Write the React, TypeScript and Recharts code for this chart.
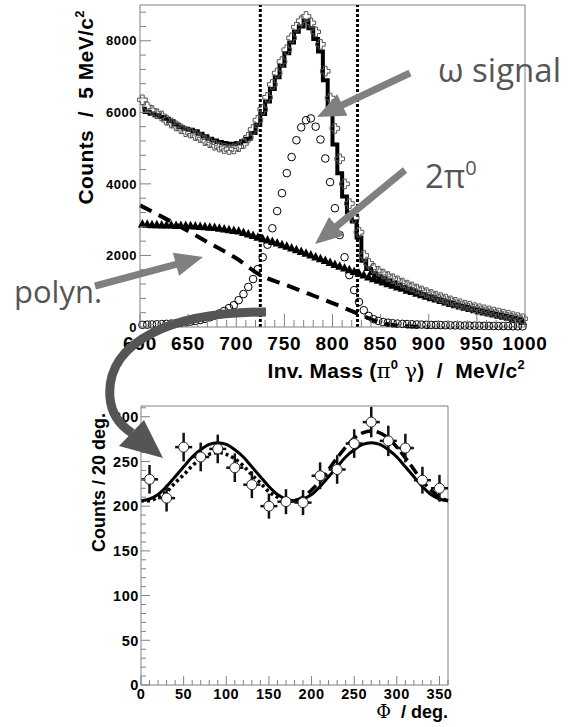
import React from "react";
import {
  ComposedChart,
  ErrorBar,
  Line,
  ReferenceLine,
  Scatter,
  XAxis,
  YAxis,
} from "recharts";

const FONT = "'Liberation Sans', Arial, Helvetica, sans-serif";
const SERIF = "'DejaVu Serif', 'Liberation Serif', serif";
const NOTE_FONT = "'Open Sans', 'DejaVu Sans', sans-serif";
const AXIS_GRAY = "#808080";
const NOTE_GRAY = "#555555";

// ---- top panel: inv. mass (pi0 gamma), 5 MeV bins 600..1000 ----
const BIN_LO = 600;
const BIN_W = 5;

const DATA = [
  6350, 6150, 6050, 5960, 5900, 5780, 5700, 5620, 5540, 5460,
  5420, 5350, 5290, 5210, 5150, 5080, 5030, 4990, 4960, 4980,
  5040, 5130, 5300, 5520, 5780, 6080, 6420, 6780, 7100, 7420,
  7750, 8080, 8380, 8560, 8680, 8500, 8250, 7900, 7150, 6400,
  5550, 4700, 4000, 3450, 3050, 2650, 2000, 1780, 1640, 1560,
  1480, 1410, 1350, 1290, 1230, 1170, 1120, 1060, 1010, 960,
  910, 860, 820, 780, 730, 690, 650, 610, 580, 540,
  510, 480, 450, 420, 390, 360, 330, 290, 260, 230,
];

const FIT = [
  6100, 6010, 5960, 5920, 5870, 5820, 5750, 5660, 5580, 5540,
  5510, 5470, 5400, 5330, 5260, 5210, 5170, 5140, 5120, 5120,
  5140, 5190, 5260, 5420, 5650, 5950, 6300, 6650, 6980, 7300,
  7650, 7950, 8250, 8400, 8550, 8350, 8050, 7700, 6900, 6000,
  5100, 4300, 3650, 3200, 2950, 2500, 1850, 1620, 1500, 1420,
  1360, 1300, 1240, 1180, 1120, 1070, 1020, 970, 920, 870,
  830, 790, 750, 710, 670, 630, 590, 560, 520, 490,
  460, 430, 400, 370, 340, 310, 280, 250, 220, 190,
];

const SIGNAL = [
  60, 65, 70, 75, 80, 88, 96, 105, 118, 132,
  150, 170, 195, 230, 270, 320, 380, 450, 530, 610,
  750, 920, 1120, 1340, 1620, 1950, 2300, 2760, 3240, 3740,
  4300, 4750, 5220, 5580, 5780, 5830, 5600, 5240, 4710, 4050,
  3320, 2570, 1950, 1450, 1030, 700, 470, 310, 220, 170,
  140, 120, 105, 95, 88, 82, 76, 70, 66, 62,
  58, 55, 52, 50, 47, 45, 42, 40, 38, 36,
  34, 32, 30, 28, 26, 25, 24, 22, 20, 18,
];

const TWO_PI0 = [
  2880, 2870, 2860, 2860, 2850, 2850, 2850, 2840, 2840, 2840,
  2830, 2820, 2810, 2800, 2790, 2780, 2760, 2740, 2720, 2700,
  2680, 2640, 2600, 2560, 2510, 2470, 2430, 2390, 2350, 2300,
  2260, 2210, 2160, 2110, 2060, 2010, 1960, 1910, 1860, 1800,
  1750, 1700, 1650, 1600, 1550, 1500, 1450, 1400, 1350, 1310,
  1260, 1210, 1170, 1120, 1080, 1030, 990, 940, 900, 860,
  820, 780, 740, 700, 660, 620, 590, 550, 520, 480,
  450, 420, 390, 360, 330, 300, 270, 230, 200, 160,
];

const POLY_M = [600, 625, 650, 675, 700, 725, 750, 775, 800, 825, 850, 875, 900];
const POLY = [3400, 3050, 2680, 2300, 1920, 1450, 1190, 930, 670, 390, 120, 20, 0];

const CUTS = [725, 826];
const MASS_LABELS = [600, 650, 700, 750, 800, 850, 900, 950, 1000];
const COUNT_LABELS = [0, 2000, 4000, 6000, 8000];

// ---- bottom panel: phi distribution, 20 deg bins ----
const PHI = [10, 30, 50, 70, 90, 110, 130, 150, 170, 190, 210, 230, 250, 270, 290, 310, 330, 350];
const PHI_COUNTS = [230, 209, 266, 255, 264, 243, 224, 200, 205, 204, 234, 241, 270, 294, 273, 265, 229, 220];
const PHI_ERR = [16, 15, 16, 16, 16, 16, 15, 14, 14, 14, 15, 16, 16, 17, 17, 16, 15, 15];

const PHI_C = [0, 10, 20, 30, 40, 50, 60, 70, 80, 90, 100, 110, 120, 130, 140, 150, 160, 170, 180,
  190, 200, 210, 220, 230, 240, 250, 260, 270, 280, 290, 300, 310, 320, 330, 340, 350, 360];
const FIT_SOLID = [206, 208, 213, 222, 233, 244, 255, 263, 269, 271, 269, 263, 255, 244, 233, 222, 213, 208, 206,
  208, 213, 222, 233, 244, 255, 263, 269, 271, 269, 263, 255, 244, 233, 222, 213, 208, 206];
const FIT_DOTTED = [206, 206, 210, 216, 226, 235, 245, 253, 258, 260, 258, 253, 245, 235, 226, 216, 210, 206, 206];
const FIT_DASHED = [206, 210, 218, 228, 241, 254, 266, 276, 282, 284, 282, 276, 266, 254, 241, 228, 218, 210, 206];

const PHI_LABELS = [0, 50, 100, 150, 200, 250, 300, 350];
const PHI_COUNT_LABELS = [0, 50, 100, 150, 200, 250, 300];

const MASS = DATA.map((_, i) => BIN_LO + BIN_W * (i + 0.5));
const rows = (xs: number[], vs: number[], key = "m") =>
  vs.map((v, i) => ({ [key]: xs[i], v }));

const massTicks = Array.from({ length: 41 }, (_, i) => 600 + 10 * i);
const countTicks = Array.from({ length: 23 }, (_, i) => 400 * i);
const phiTicks = Array.from({ length: 37 }, (_, i) => 10 * i);
const phiCountTicks = Array.from({ length: 32 }, (_, i) => 10 * i);

type TickCfg = {
  majors: number[];
  major: number;
  minor: number;
  gap: number;
  size: number;
  spacing: number;
};

const TICK_MARGIN = 4;

const yTick = (c: TickCfg) => (props: any) => {
  const { x, y, payload } = props;
  const ax = x + TICK_MARGIN;
  const isMajor = c.majors.includes(payload.value);
  return (
    <g>
      <line x1={ax} x2={ax + (isMajor ? c.major : c.minor)} y1={y} y2={y} stroke={AXIS_GRAY} />
      {isMajor && (
        <text
          x={ax - c.gap}
          y={y}
          dy="0.36em"
          textAnchor="end"
          fontFamily={FONT}
          fontWeight="bold"
          fontSize={c.size}
          letterSpacing={c.spacing}
          fill="#000"
        >
          {payload.value}
        </text>
      )}
    </g>
  );
};

const xTick = (c: TickCfg) => (props: any) => {
  const { x, y, payload } = props;
  const ay = y - TICK_MARGIN;
  const isMajor = c.majors.includes(payload.value);
  return (
    <g>
      <line x1={x} x2={x} y1={ay} y2={ay - (isMajor ? c.major : c.minor)} stroke={AXIS_GRAY} />
      {isMajor && (
        <text
          x={x}
          y={ay + c.gap}
          dy="0.71em"
          textAnchor="middle"
          fontFamily={FONT}
          fontWeight="bold"
          fontSize={c.size}
          letterSpacing={c.spacing}
          fill="#000"
        >
          {payload.value}
        </text>
      )}
    </g>
  );
};

const HollowCross = (p: any) => {
  const { cx, cy } = p;
  if (cx == null || cy == null) return null;
  const a = 4.8;
  const w = 1.8;
  const d = `M${cx - w},${cy - a}H${cx + w}V${cy - w}H${cx + a}V${cy + w}H${cx + w}V${cy + a}H${cx - w}V${cy + w}H${cx - a}V${cy - w}H${cx - w}Z`;
  return <path d={d} fill="none" stroke="#555" strokeWidth={1} />;
};

const OpenCircle = (p: any) =>
  p.cx == null ? null : <circle cx={p.cx} cy={p.cy} r={3.8} fill="none" stroke="#000" strokeWidth={1} />;

const Triangle = (p: any) => {
  const { cx, cy } = p;
  if (cx == null) return null;
  return <polygon points={`${cx},${cy - 5} ${cx - 4.5},${cy + 3.5} ${cx + 4.5},${cy + 3.5}`} fill="#000" />;
};

const WhiteCircle = (p: any) =>
  p.cx == null ? null : <circle cx={p.cx} cy={p.cy} r={5} fill="#fff" stroke="#222" strokeWidth={1} />;

function arrow(tx: number, ty: number, hx: number, hy: number, w = 7, hl = 28, hw = 24) {
  const dx = hx - tx;
  const dy = hy - ty;
  const len = Math.hypot(dx, dy);
  const ux = dx / len;
  const uy = dy / len;
  const nx = -uy;
  const ny = ux;
  const bx = hx - ux * hl;
  const by = hy - uy * hl;
  const pts = [
    [tx + (nx * w) / 2, ty + (ny * w) / 2],
    [bx + (nx * w) / 2, by + (ny * w) / 2],
    [bx + (nx * hw) / 2, by + (ny * hw) / 2],
    [hx, hy],
    [bx - (nx * hw) / 2, by - (ny * hw) / 2],
    [bx - (nx * w) / 2, by - (ny * w) / 2],
    [tx - (nx * w) / 2, ty - (ny * w) / 2],
  ];
  return pts.map((q) => q.join(",")).join(" ");
}

function MassPanel() {
  return (
    <ComposedChart width={572} height={390} margin={{ top: 5, right: 47, bottom: 0, left: 0 }}>
      <XAxis
        type="number"
        dataKey="m"
        domain={[600, 1000]}
        ticks={massTicks}
        interval={0}
        height={63}
        stroke={AXIS_GRAY}
        tickLine={false}
        tickSize={0}
        tickMargin={TICK_MARGIN}
        tick={xTick({ majors: MASS_LABELS, major: 13, minor: 7, gap: 10, size: 19, spacing: 0.8 })}
      />
      <YAxis
        type="number"
        dataKey="v"
        domain={[0, 9000]}
        ticks={countTicks}
        interval={0}
        width={140}
        stroke={AXIS_GRAY}
        tickLine={false}
        tickSize={0}
        tickMargin={TICK_MARGIN}
        tick={yTick({ majors: COUNT_LABELS, major: 11, minor: 6, gap: 3, size: 13, spacing: 0.5 })}
      />
      <ReferenceLine y={9000} stroke={AXIS_GRAY} />
      <ReferenceLine x={1000} stroke={AXIS_GRAY} />
      {CUTS.map((c) => (
        <ReferenceLine key={c} x={c} stroke="#000" strokeWidth={3} strokeDasharray="3 2" />
      ))}
      <Line
        data={rows(POLY_M, POLY)}
        dataKey="v"
        type="monotone"
        stroke="#000"
        strokeWidth={4}
        strokeDasharray="13 8"
        dot={false}
        activeDot={false}
        isAnimationActive={false}
      />
      <Scatter data={rows(MASS, TWO_PI0)} dataKey="v" shape={Triangle} isAnimationActive={false} />
      <Scatter data={rows(MASS, SIGNAL)} dataKey="v" shape={OpenCircle} isAnimationActive={false} />
      <Line
        data={rows(MASS, FIT)}
        dataKey="v"
        type="step"
        stroke="#000"
        strokeWidth={4}
        dot={false}
        activeDot={false}
        isAnimationActive={false}
      />
      <Scatter data={rows(MASS, DATA)} dataKey="v" shape={HollowCross} isAnimationActive={false} />
    </ComposedChart>
  );
}

function PhiPanel() {
  const points = PHI.map((phi, i) => ({ phi, v: PHI_COUNTS[i], ey: PHI_ERR[i], ex: 10 }));
  return (
    <ComposedChart width={572} height={327} margin={{ top: 6, right: 124, bottom: 0, left: 0 }}>
      <XAxis
        type="number"
        dataKey="phi"
        domain={[0, 360]}
        ticks={phiTicks}
        interval={0}
        height={42}
        stroke={AXIS_GRAY}
        tickLine={false}
        tickSize={0}
        tickMargin={TICK_MARGIN}
        tick={xTick({ majors: PHI_LABELS, major: 9, minor: 5, gap: 4, size: 14.5, spacing: 0.6 })}
      />
      <YAxis
        type="number"
        dataKey="v"
        domain={[0, 312]}
        ticks={phiCountTicks}
        interval={0}
        width={141}
        stroke={AXIS_GRAY}
        tickLine={false}
        tickSize={0}
        tickMargin={TICK_MARGIN}
        tick={yTick({ majors: PHI_COUNT_LABELS, major: 9, minor: 5, gap: 2, size: 14.5, spacing: 0.6 })}
      />
      <ReferenceLine y={312} stroke={AXIS_GRAY} />
      <ReferenceLine x={360} stroke={AXIS_GRAY} />
      <Line
        data={rows(PHI_C, FIT_SOLID, "phi")}
        dataKey="v"
        type="monotone"
        stroke="#000"
        strokeWidth={3}
        dot={false}
        activeDot={false}
        isAnimationActive={false}
      />
      <Line
        data={rows(PHI_C.slice(0, 19), FIT_DOTTED, "phi")}
        dataKey="v"
        type="monotone"
        stroke="#000"
        strokeWidth={3.5}
        strokeDasharray="3 3"
        dot={false}
        activeDot={false}
        isAnimationActive={false}
      />
      <Line
        data={rows(PHI_C.slice(18), FIT_DASHED, "phi")}
        dataKey="v"
        type="monotone"
        stroke="#000"
        strokeWidth={3.5}
        strokeDasharray="11 5"
        dot={false}
        activeDot={false}
        isAnimationActive={false}
      />
      <Scatter data={points} dataKey="v" shape={WhiteCircle} isAnimationActive={false}>
        <ErrorBar dataKey="ey" direction="y" width={0} stroke="#111" strokeWidth={2.5} />
        <ErrorBar dataKey="ex" direction="x" width={0} stroke="#111" strokeWidth={2.5} />
      </Scatter>
    </ComposedChart>
  );
}

function Overlay() {
  const pre = { whiteSpace: "pre" as const };
  return (
    <svg
      width={572}
      height={727}
      style={{ position: "absolute", left: 0, top: 0, pointerEvents: "none" }}
    >
      {/* axis titles */}
      <text x={525} y={378} textAnchor="end" fontFamily={FONT} fontWeight="bold" fontSize={21} letterSpacing={0.3} style={pre}>
        {"Inv. Mass ("}
        <tspan fontFamily={SERIF} fontWeight="normal">π</tspan>
        <tspan fontSize={13} dy={-9}>0</tspan>
        <tspan dy={9}> </tspan>
        <tspan fontFamily={SERIF} fontWeight="normal">γ</tspan>
        {")  /  MeV/c"}
        <tspan fontSize={13} dy={-9}>2</tspan>
      </text>
      <text
        transform="translate(93,10) rotate(-90)"
        textAnchor="end"
        fontFamily={FONT}
        fontWeight="bold"
        fontSize={21}
        letterSpacing={0.4}
        style={pre}
      >
        {"Counts  /  5 MeV/c"}
        <tspan fontSize={13} dy={-9}>2</tspan>
      </text>
      <text
        transform="translate(105,413) rotate(-90)"
        textAnchor="end"
        fontFamily={FONT}
        fontWeight="bold"
        fontSize={18}
        style={pre}
      >
        Counts / 20 deg.
      </text>
      <text x={448} y={718} textAnchor="end" fontFamily={FONT} fontWeight="bold" fontSize={18} style={pre}>
        <tspan fontFamily={SERIF} fontWeight="normal">Φ</tspan>
        {"  / deg."}
      </text>

      {/* annotations */}
      <polygon points={arrow(410, 73, 317, 117)} fill={AXIS_GRAY} />
      <polygon points={arrow(405, 170, 315, 244)} fill={AXIS_GRAY} />
      <polygon points={arrow(95, 286, 203, 257)} fill={AXIS_GRAY} />
      <text x={438} y={82} fontFamily={NOTE_FONT} fontSize={33} fill={NOTE_GRAY}>ω signal</text>
      <text x={425} y={188} fontFamily={NOTE_FONT} fontSize={33} fill={NOTE_GRAY}>
        2π<tspan fontSize={20} dy={-13}>0</tspan>
      </text>
      <text x={14} y={303} fontFamily={NOTE_FONT} fontSize={31} fill={NOTE_GRAY}>polyn.</text>

      <path
        d="M266,312 C175,312 105,340 110,398 Q112,420 132,433"
        fill="none"
        stroke={NOTE_GRAY}
        strokeWidth={9}
      />
      <polygon points="119,446 144,420 163,458" fill={NOTE_GRAY} />
    </svg>
  );
}

export default function App() {
  return (
    <div style={{ position: "absolute", left: 0, top: 0, width: 572, height: 727, background: "#fff" }}>
      <div style={{ position: "absolute", left: 0, top: 0 }}>
        <MassPanel />
      </div>
      <div style={{ position: "absolute", left: 0, top: 400 }}>
        <PhiPanel />
      </div>
      <Overlay />
    </div>
  );
}
